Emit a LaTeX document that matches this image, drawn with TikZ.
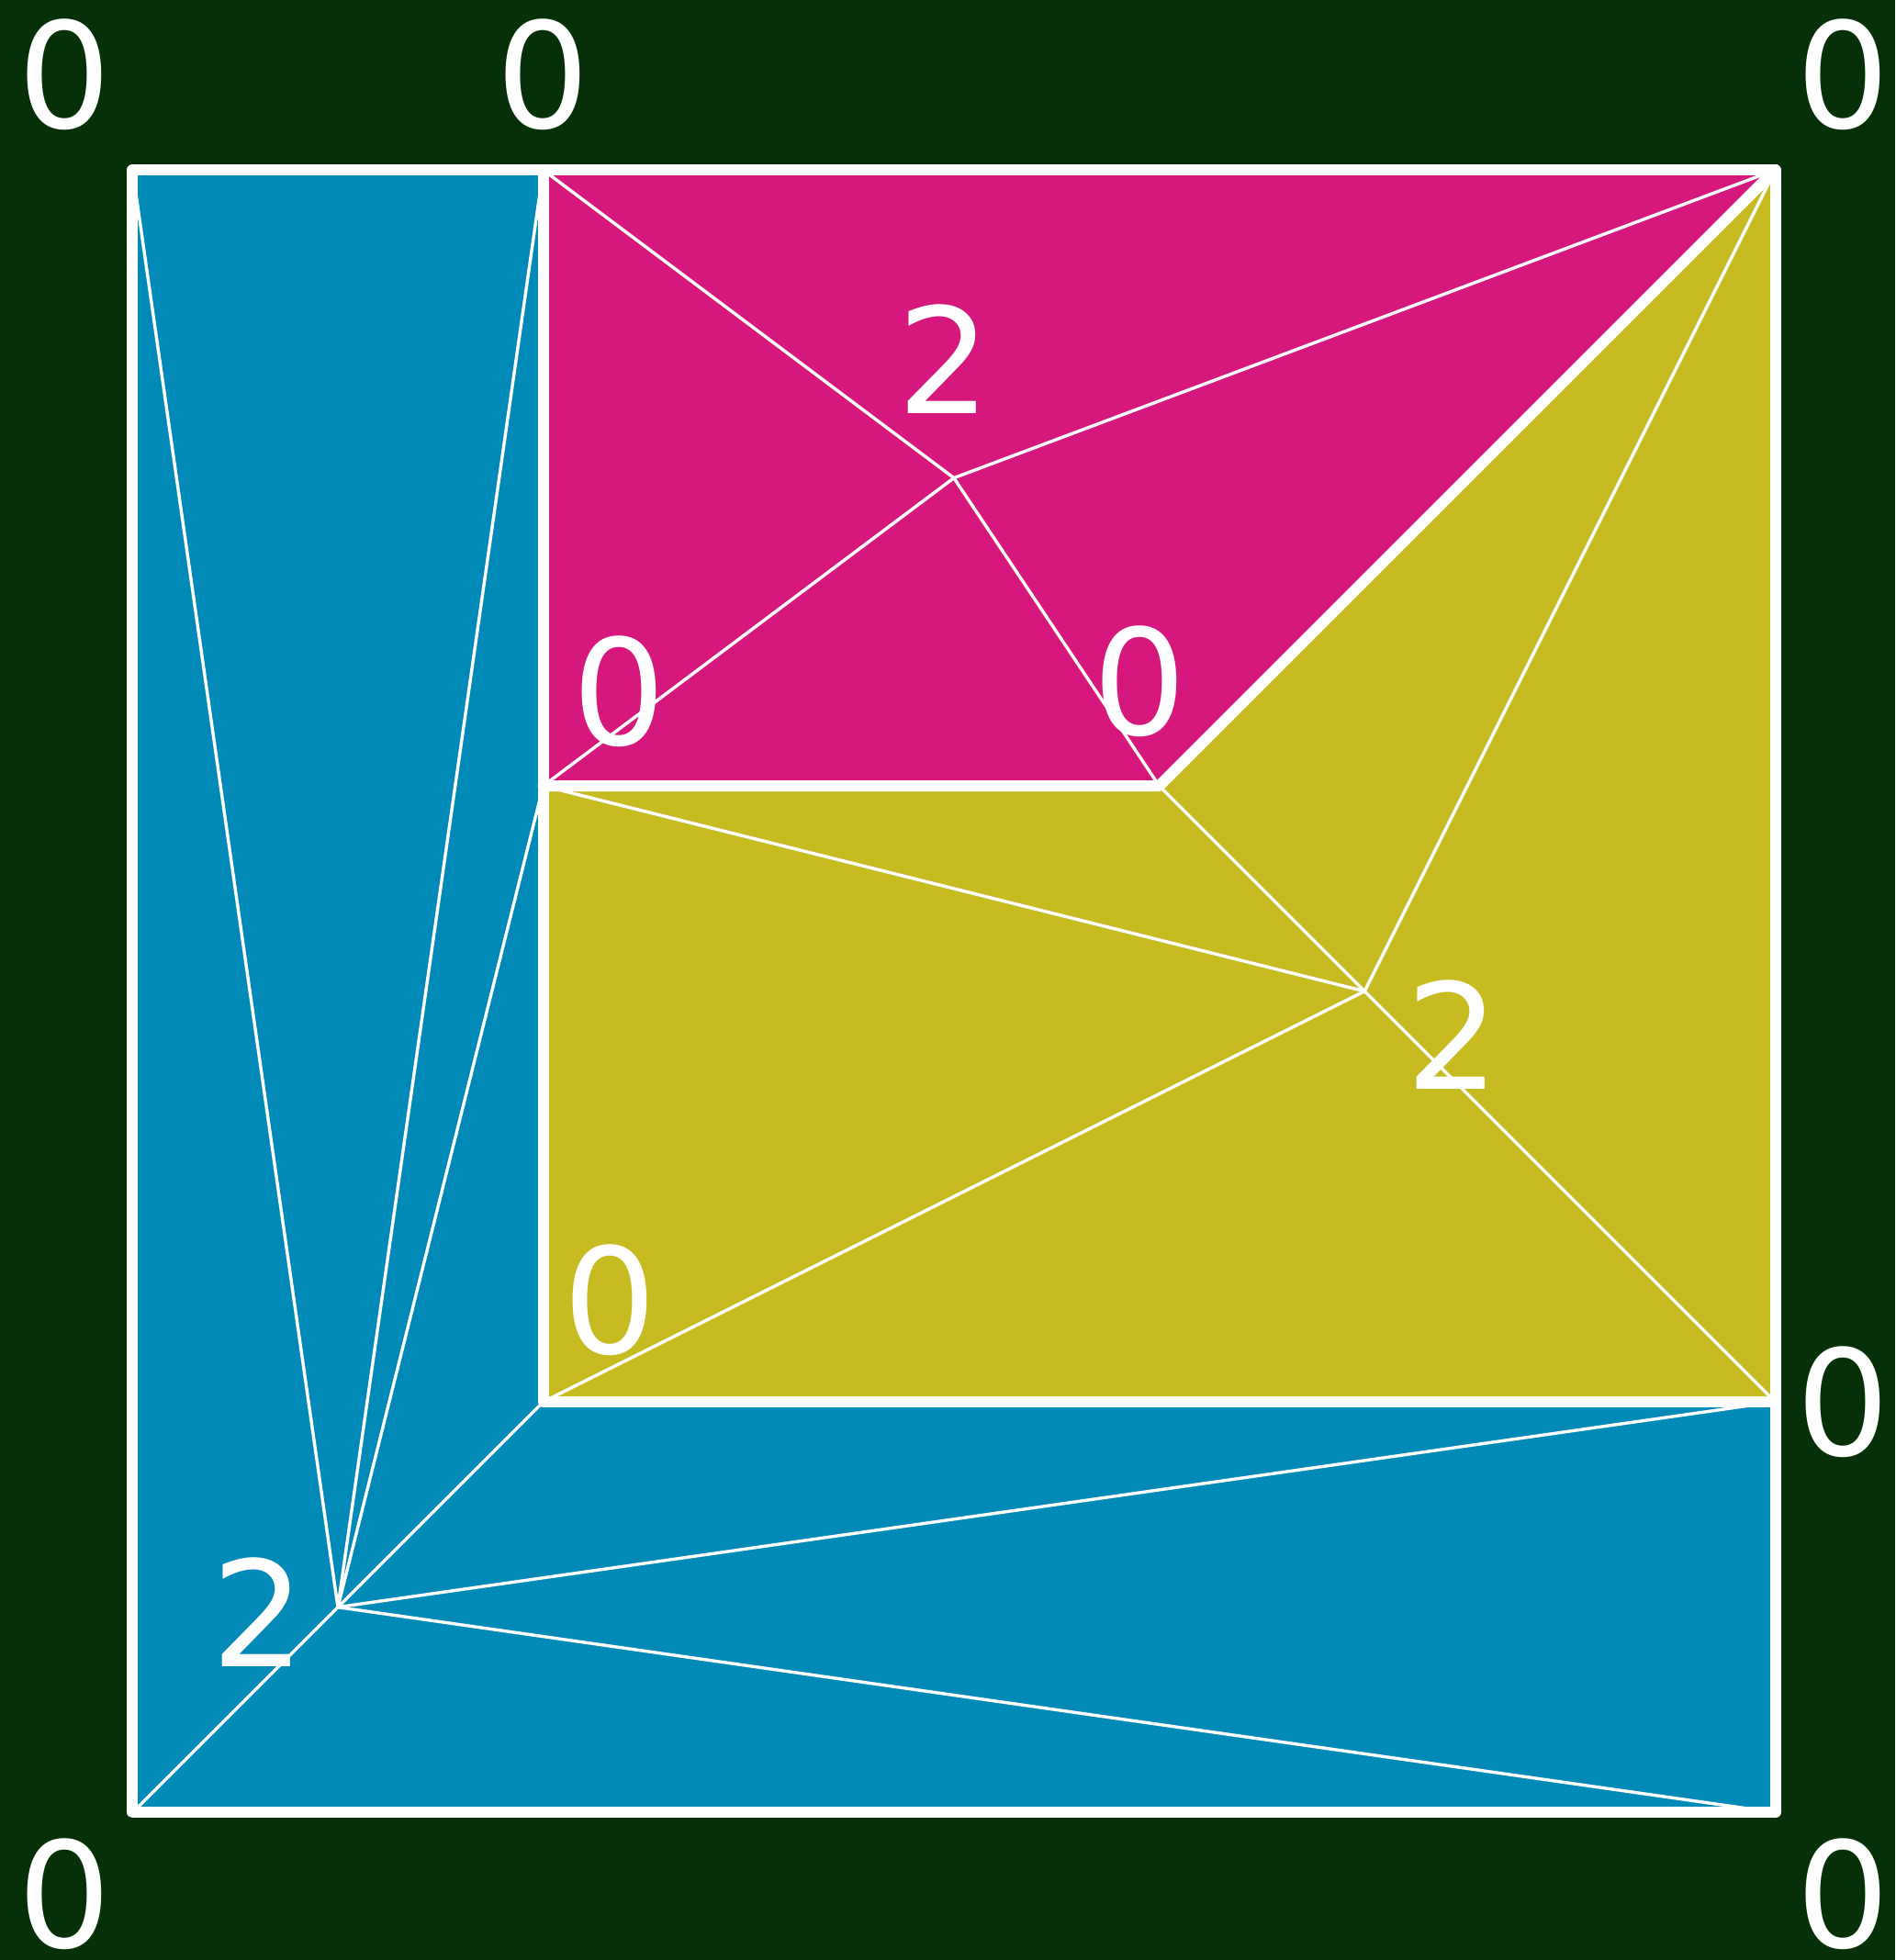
\documentclass[tikz,border=0pt]{standalone}
\usepackage{fontspec}
\setmainfont{DejaVu Sans}
\usepackage{xcolor}
\definecolor{bgGreen}{HTML}{063108}
\definecolor{tileBlue}{HTML}{0189B8}
\definecolor{tileMagenta}{HTML}{D6177D}
\definecolor{tileYellow}{HTML}{C8BB21}

\begin{document}
\begin{tikzpicture}[x=2.75cm,y=2.75cm,
    every node/.style={font=\fontsize{56}{58}\selectfont,text=white,inner sep=0pt},
    seam/.style={white,line width=4.2pt,line join=round,line cap=round},
    fan/.style={white,line width=1.2pt}]
    % Canvas
    \fill[bgGreen] (-0.6454,-0.7184) rectangle (8.5845,8.828);
    \useasboundingbox (-0.6454,-0.7184) rectangle (8.5845,8.828);
    % Corners and cut points
    \coordinate (sw) at (0,0); \coordinate (se) at (8,0);
    \coordinate (ne) at (8,8); \coordinate (nw) at (0,8);
    \coordinate (tcut) at (2,8);
    \coordinate (ml) at (2,5); \coordinate (mr) at (5,5);
    \coordinate (bl) at (2,2); \coordinate (br) at (8,2);
    % Hubs
    \coordinate (hubM) at (4,6.5);
    \coordinate (hubY) at (6,4);
    \coordinate (hubB) at (1,1);
    % Tiles
    \fill[tileMagenta] (tcut) -- (ne) -- (mr) -- (ml) -- cycle;
    \fill[tileYellow] (mr) -- (ne) -- (br) -- (bl) -- (ml) -- cycle;
    \fill[tileBlue] (nw) -- (tcut) -- (bl) -- (br) -- (se) -- (sw) -- cycle;
    % Fans
    \foreach \p in {tcut,ne,ml,mr} \draw[fan] (hubM) -- (\p);
    \foreach \p in {ml,mr,ne,bl,br} \draw[fan] (hubY) -- (\p);
    \foreach \p in {nw,tcut,ml,bl,sw,br,se} \draw[fan] (hubB) -- (\p);
    % Seams
    \draw[seam] (sw) rectangle (ne);
    \draw[seam] (tcut) -- (bl) -- (br);
    \draw[seam] (ml) -- (mr) -- (ne);
    % Labels
    \node (lNW) at (-0.329,8.463) {0};
    \node (lTC) at (2,8.463) {0};
    \node (lNE) at (8.329,8.463) {0};
    \node (lSW) at (-0.329,-0.396) {0};
    \node (lSE) at (8.329,-0.396) {0};
    \node (lBR) at (8.329,2) {0};
    \node (lML) at (2.368,5.461) {0};
    \node (lMR) at (4.907,5.510) {0};
    \node (lBL) at (2.326,2.496) {0};
    \node (lHM) at (3.951,7.081) {2};
    \node (lHY) at (6.429,3.787) {2};
    \node (lHB) at (0.615,0.974) {2};
\end{tikzpicture}
\end{document}
